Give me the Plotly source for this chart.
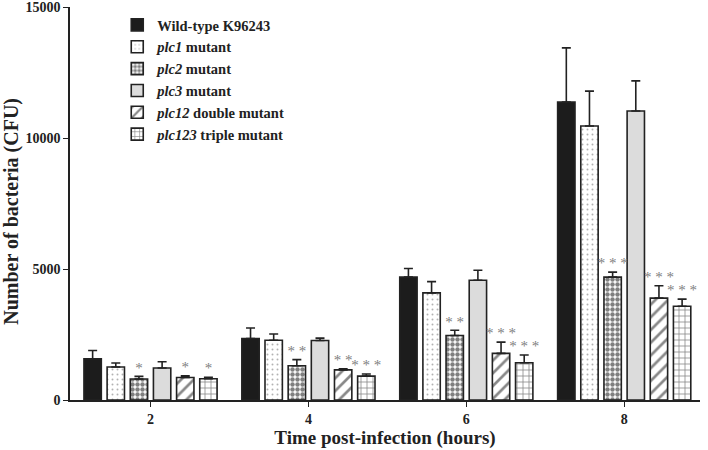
import plotly.graph_objects as go

hours = ["2", "4", "6", "8"]

series = ["Wild-type K96243", "<i>plc1</i> mutant", "<i>plc2</i> mutant",
          "<i>plc3</i> mutant", "<i>plc12</i> double mutant",
          "<i>plc123</i> triple mutant"]

wt = [1570, 2350, 4690, 11370]
plc1 = [1260, 2280, 4090, 10460]
plc2 = [800, 1310, 2460, 4690]
plc3 = [1220, 2270, 4570, 11030]
plc12 = [860, 1150, 1780, 3890]
plc123 = [810, 910, 1420, 3580]

wt_err = [320, 400, 330, 2070]
plc1_err = [150, 240, 430, 1330]
plc2_err = [100, 230, 200, 190]
plc3_err = [240, 90, 380, 1150]
plc12_err = [60, 40, 430, 470]
plc123_err = [60, 80, 300, 270]

stars_plc2 = ["*", "**", "**", "***"]
stars_plc12 = ["*", "**", "***", "***"]
stars_plc123 = ["*", "***", "***", "***"]

values = [wt, plc1, plc2, plc3, plc12, plc123]
errors = [wt_err, plc1_err, plc2_err, plc3_err, plc12_err, plc123_err]
stars = [None, None, stars_plc2, None, stars_plc12, stars_plc123]

line_col = "#222222"
fills = ["#1c1c1c", "white", "white", "#dcdcdc", "white", "white"]
patterns = [
    dict(shape=""),
    dict(shape=".", fgcolor="#666666", size=5, solidity=0.12),
    dict(shape=".", fgcolor="#000000", size=5, solidity=0.62),
    dict(shape=""),
    dict(shape="/", fgcolor="#111111", size=9, solidity=0.3),
    dict(shape="+", fgcolor="#111111", size=6, solidity=0.25),
]

fig = go.Figure()

for i, name in enumerate(series):
    fig.add_trace(go.Bar(
        x=hours, y=values[i], name=name,
        offsetgroup=str(i),
        marker=dict(color=fills[i], pattern=patterns[i],
                    line=dict(color=line_col, width=1.6)),
        error_y=dict(type="data", symmetric=False, array=errors[i],
                     arrayminus=[0] * len(hours), color=line_col,
                     thickness=1.6, width=4.5),
    ))

# significance marks sit on top of the error bars
for i in range(len(series)):
    txt = stars[i] if stars[i] else [""] * len(hours)
    txt = [" ".join(list(t)) for t in txt]
    tops = [v + e for v, e in zip(values[i], errors[i])]
    fig.add_trace(go.Scatter(
        x=hours, y=tops, mode="text", text=txt,
        textposition="top center", offsetgroup=str(i),
        textfont=dict(family="Liberation Serif", size=15, color="#808080"),
        showlegend=False, hoverinfo="skip",
    ))

fig.update_layout(
    width=708, height=450,
    paper_bgcolor="white", plot_bgcolor="white",
    margin=dict(l=70, r=8, t=7, b=50),
    barmode="group", bargap=0.12, bargroupgap=0.25,
    scattermode="group", scattergap=0.12,
    font=dict(family="Liberation Serif", color="#222222"),
    legend=dict(x=0.075, y=0.995, xanchor="left", yanchor="top",
                bgcolor="rgba(0,0,0,0)",
                font=dict(family="Liberation Serif", size=14.5,
                          color="#222222", weight="bold"),
                itemwidth=30),
    xaxis=dict(type="category", range=[-0.51, 3.48], automargin=False,
               showline=True, linecolor=line_col, linewidth=1.6,
               ticks="outside", ticklen=5, tickcolor=line_col,
               tickfont=dict(size=14, weight="bold"),
               showgrid=False, zeroline=False,
               title=dict(text="Time post-infection (hours)",
                          font=dict(size=19, weight="bold"), standoff=5)),
    yaxis=dict(range=[0, 15000], tickvals=[0, 5000, 10000, 15000],
               tickformat="d", automargin=False, ticklabeloverflow="allow",
               showline=True, linecolor=line_col, linewidth=1.6,
               ticks="outside", ticklen=5, tickcolor=line_col,
               tickfont=dict(size=14, weight="bold"),
               showgrid=False, zeroline=False),
    annotations=[dict(text="<b>Number of bacteria (CFU)</b>",
                      xref="paper", yref="paper", x=-0.093, y=0.48,
                      xanchor="center", yanchor="middle", textangle=-90,
                      showarrow=False,
                      font=dict(family="Liberation Serif", size=20,
                                color="#222222"))],
)

fig.write_html("out.html", config={"displayModeBar": False},
               post_script="document.body.style.margin='0';")
